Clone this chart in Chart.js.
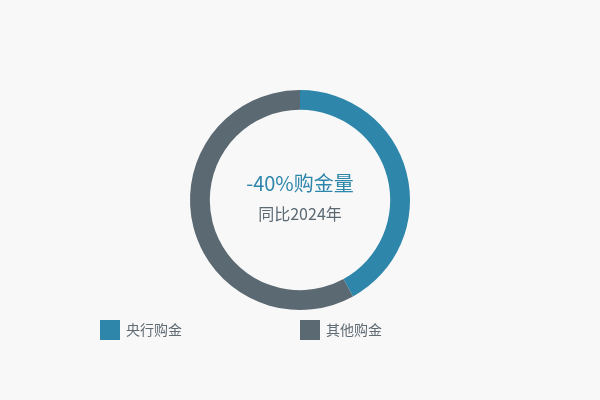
<!DOCTYPE html>
<html>
<head>
<meta charset="utf-8">
<script src="https://cdn.jsdelivr.net/npm/chart.js@4"></script>
<style>
  html, body { margin: 0; padding: 0; background: #f8f8f8; }
  #wrap { width: 600px; height: 400px; position: relative; }
</style>
</head>
<body>
<div id="wrap"><canvas id="goldChart"></canvas></div>
<script>
const labels = ['央行购金', '其他购金'];
const shares = [42, 58];
const colors = ['#2e86ab', '#5b6973'];
const centerMain = '-40%购金量';
const centerSub = '同比2024年';

const FONT = '"Noto Sans CJK SC", "Noto Sans", sans-serif';

// center text + two-column legend under the ring
const extras = {
    id: 'extras',
    afterDraw(chart) {
        const ctx = chart.ctx;
        const meta = chart.getDatasetMeta(0);
        const arc = meta.data[0];
        const cx = arc.x, cy = arc.y;

        ctx.save();
        ctx.textAlign = 'center';
        ctx.textBaseline = 'middle';
        ctx.fillStyle = colors[0];
        ctx.font = '20px ' + FONT;
        ctx.fillText(centerMain, cx, cy - 17);
        ctx.fillStyle = '#5b6973';
        ctx.font = '16px ' + FONT;
        ctx.fillText(centerSub, cx, cy + 14);

        // legend
        ctx.textAlign = 'left';
        ctx.font = '14px ' + FONT;
        labels.forEach(function (lab, i) {
            const x = 100 + i * 200;
            const y = 320;
            ctx.fillStyle = colors[i];
            ctx.fillRect(x, y, 20, 20);
            ctx.fillStyle = '#5f6b73';
            ctx.fillText(lab, x + 26, y + 10);
        });
        ctx.restore();
    }
};

new Chart(document.getElementById('goldChart'), {
    type: 'doughnut',
    data: {
        labels: labels,
        datasets: [{
            data: shares,
            backgroundColor: colors,
            borderWidth: 0,
            hoverOffset: 0
        }]
    },
    options: {
        responsive: true,
        maintainAspectRatio: false,
        animation: false,
        cutout: '82%',
        layout: { padding: { top: 90, bottom: 90 } },
        plugins: {
            legend: { display: false },
            tooltip: { enabled: false }
        }
    },
    plugins: [extras]
});
</script>
</body>
</html>
